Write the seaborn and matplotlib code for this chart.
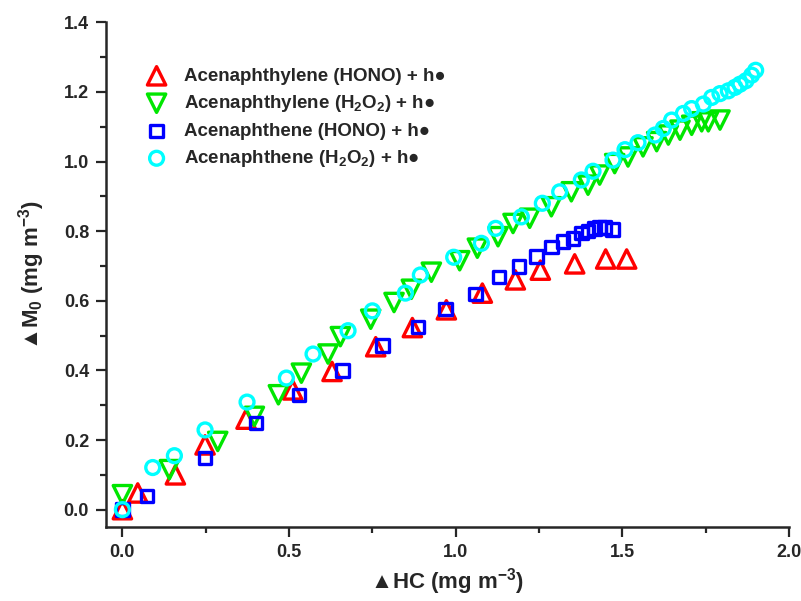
import matplotlib
matplotlib.use("Agg")
import matplotlib.pyplot as plt
from matplotlib.ticker import MultipleLocator
import seaborn as sns

# Acenaphthylene (HONO) + hv
acy_hono_x = [0, 0.046, 0.159, 0.248, 0.371, 0.511, 0.629, 0.76, 0.87, 0.972, 1.08, 1.179,
              1.254, 1.357, 1.45, 1.513]
acy_hono_y = [0, 0.048, 0.10, 0.186, 0.26, 0.344, 0.397, 0.468, 0.523, 0.574, 0.622, 0.66,
              0.688, 0.706, 0.72, 0.72]

# Acenaphthylene (H2O2) + hv
acy_h2o2_x = [0, 0.141, 0.286, 0.396, 0.468, 0.537, 0.617, 0.654, 0.745, 0.815, 0.867, 0.927,
              1.012, 1.065, 1.127, 1.172, 1.222, 1.287, 1.347, 1.397, 1.432, 1.477, 1.517,
              1.562, 1.603, 1.638, 1.673, 1.708, 1.738, 1.758, 1.793]
acy_h2o2_y = [0.043, 0.115, 0.196, 0.268, 0.33, 0.392, 0.447, 0.497, 0.547, 0.595, 0.633, 0.682,
              0.715, 0.751, 0.784, 0.822, 0.837, 0.870, 0.913, 0.932, 0.961, 0.994, 1.013,
              1.042, 1.057, 1.076, 1.09, 1.104, 1.114, 1.114, 1.119]

# Acenaphthene (HONO) + hv
ace_hono_x = [0, 0.073, 0.248, 0.401, 0.53, 0.66, 0.78, 0.887, 0.969, 1.059, 1.13, 1.19,
              1.242, 1.287, 1.322, 1.352, 1.377, 1.397, 1.417, 1.432, 1.447, 1.47]
ace_hono_y = [0, 0.040, 0.148, 0.249, 0.33, 0.40, 0.471, 0.524, 0.577, 0.619, 0.669, 0.698,
              0.727, 0.754, 0.77, 0.779, 0.794, 0.801, 0.808, 0.81, 0.81, 0.805]

# Acenaphthene (H2O2) + hv
ace_h2o2_x = [0, 0.091, 0.156, 0.248, 0.374, 0.492, 0.572, 0.677, 0.75, 0.849, 0.894, 0.994,
              1.077, 1.12, 1.197, 1.26, 1.312, 1.377, 1.412, 1.472, 1.508, 1.547, 1.598,
              1.623, 1.648, 1.683, 1.708, 1.743, 1.768, 1.793, 1.818, 1.838, 1.853, 1.871,
              1.888, 1.90]
ace_h2o2_y = [0, 0.121, 0.155, 0.229, 0.309, 0.378, 0.447, 0.514, 0.571, 0.622, 0.674, 0.725,
              0.765, 0.808, 0.841, 0.88, 0.913, 0.947, 0.972, 1.004, 1.034, 1.054, 1.076,
              1.095, 1.119, 1.138, 1.152, 1.165, 1.184, 1.195, 1.203, 1.213, 1.222, 1.232,
              1.248, 1.262]

labels = ["Acenaphthylene (HONO) + h●",
          "Acenaphthylene (H$_2$O$_2$) + h●",
          "Acenaphthene (HONO) + h●",
          "Acenaphthene (H$_2$O$_2$) + h●"]

sns.set_style("ticks")
plt.rcParams['font.family'] = ['Liberation Sans', 'DejaVu Sans']
plt.rcParams['font.weight'] = 'bold'
plt.rcParams['mathtext.fontset'] = 'custom'
plt.rcParams['mathtext.default'] = 'bf'
plt.rcParams['mathtext.bf'] = 'Liberation Sans:bold'
plt.rcParams['mathtext.rm'] = 'Liberation Sans:bold'

fig = plt.figure(figsize=(8.01, 6.01), dpi=100)
ax = fig.add_axes([0.132, 0.123, 0.853, 0.84])

series = [
    (acy_hono_x, acy_hono_y, '^', 175, '#FF0000'),
    (acy_h2o2_x, acy_h2o2_y, 'v', 175, '#00E600'),
    (ace_hono_x, ace_hono_y, 's', 80, '#0000FF'),
    (ace_h2o2_x, ace_h2o2_y, 'o', 100, '#00FFFF'),
]
for (xs, ys, mk, size, col), lab in zip(series, labels):
    sns.scatterplot(x=xs, y=ys, marker=mk, s=size, color=col, facecolor='none',
                    edgecolor=col, linewidth=2.4, label=lab, ax=ax, zorder=3)

ax.set_xlim(-0.05, 2.0)
ax.set_ylim(-0.05, 1.4)
ax.xaxis.set_major_locator(MultipleLocator(0.5))
ax.xaxis.set_minor_locator(MultipleLocator(0.25))
ax.yaxis.set_major_locator(MultipleLocator(0.2))
ax.yaxis.set_minor_locator(MultipleLocator(0.1))
ax.xaxis.set_major_formatter(matplotlib.ticker.FormatStrFormatter('%.1f'))
ax.yaxis.set_major_formatter(matplotlib.ticker.FormatStrFormatter('%.1f'))
ax.tick_params(which='major', direction='out', length=7, width=1.6, labelsize=13, pad=5)
ax.tick_params(which='minor', direction='out', length=4, width=1.6)
for lab in ax.get_xticklabels() + ax.get_yticklabels():
    lab.set_fontweight('bold')

for side in ['top', 'right']:
    ax.spines[side].set_visible(False)
for side in ['left', 'bottom']:
    ax.spines[side].set_linewidth(1.8)

ax.set_xlabel("▲HC (mg m$^{-3}$)", fontsize=16, fontweight='bold', labelpad=4)
ax.set_ylabel("▲M$_0$ (mg m$^{-3}$)", fontsize=16, fontweight='bold', labelpad=12)

leg = ax.legend(loc='upper left', bbox_to_anchor=(0.036, 0.925), frameon=False,
                fontsize=13.5, handletextpad=0.45, labelspacing=0.45, borderaxespad=0)
for t in leg.get_texts():
    t.set_fontweight('bold')

fig.savefig("out.png", dpi=100)
